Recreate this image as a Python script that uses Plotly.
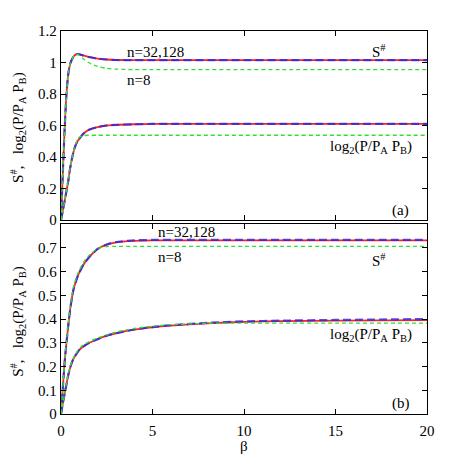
import plotly.graph_objects as go
from plotly.subplots import make_subplots

# ------------------ data ------------------
beta = [0, 0.1, 0.2, 0.3, 0.4, 0.5, 0.6, 0.7, 0.8, 0.9, 1.0, 1.2, 1.5, 2, 2.5, 3,
        4, 5, 6, 8, 10, 12, 15, 20]

# panel (a)
a_s_128 = [0, 0.30, 0.58, 0.80, 0.93, 0.99, 1.02, 1.04, 1.05, 1.054, 1.052, 1.045,
           1.035, 1.025, 1.019, 1.016, 1.015, 1.015, 1.015, 1.015, 1.015, 1.015, 1.015, 1.015]
a_s_32 = [0, 0.30, 0.58, 0.80, 0.93, 0.99, 1.02, 1.04, 1.05, 1.054, 1.052, 1.045,
          1.035, 1.025, 1.019, 1.016, 1.015, 1.015, 1.015, 1.015, 1.015, 1.015, 1.015, 1.015]
a_s_8 = [0, 0.30, 0.58, 0.80, 0.93, 0.99, 1.02, 1.04, 1.05, 1.052, 1.045, 1.025,
         1.0, 0.975, 0.963, 0.958, 0.955, 0.955, 0.955, 0.955, 0.955, 0.955, 0.955, 0.955]
a_l_128 = [0, 0.06, 0.12, 0.185, 0.25, 0.33, 0.39, 0.44, 0.475, 0.50, 0.515, 0.545,
           0.571, 0.59, 0.60, 0.604, 0.608, 0.61, 0.61, 0.61, 0.61, 0.61, 0.61, 0.61]
a_l_32 = [0, 0.06, 0.12, 0.185, 0.25, 0.33, 0.39, 0.44, 0.475, 0.50, 0.515, 0.545,
          0.571, 0.59, 0.60, 0.604, 0.608, 0.61, 0.61, 0.61, 0.61, 0.61, 0.61, 0.61]
a_l_8 = [0, 0.06, 0.12, 0.185, 0.25, 0.33, 0.39, 0.44, 0.48, 0.51, 0.525, 0.535,
         0.538, 0.538, 0.538, 0.538, 0.538, 0.538, 0.538, 0.538, 0.538, 0.538, 0.538, 0.538]

# panel (b)
b_s_128 = [0, 0.11, 0.22, 0.30, 0.375, 0.44, 0.49, 0.53, 0.555, 0.578, 0.595, 0.625,
           0.657, 0.695, 0.713, 0.723, 0.729, 0.731, 0.731, 0.731, 0.731, 0.731, 0.731, 0.731]
b_s_32 = [0, 0.11, 0.22, 0.30, 0.375, 0.44, 0.49, 0.53, 0.555, 0.578, 0.595, 0.625,
          0.657, 0.695, 0.714, 0.724, 0.731, 0.733, 0.733, 0.733, 0.733, 0.733, 0.733, 0.733]
b_s_8 = [0, 0.11, 0.22, 0.305, 0.385, 0.45, 0.50, 0.54, 0.565, 0.588, 0.605, 0.635,
         0.665, 0.697, 0.705, 0.706, 0.706, 0.706, 0.706, 0.706, 0.706, 0.706, 0.706, 0.706]
b_l_128 = [0, 0.045, 0.085, 0.125, 0.165, 0.195, 0.218, 0.235, 0.248, 0.26, 0.27, 0.283,
           0.298, 0.315, 0.33, 0.34, 0.355, 0.365, 0.372, 0.382, 0.388, 0.391, 0.393, 0.395]
b_l_32 = [0, 0.045, 0.085, 0.125, 0.165, 0.195, 0.218, 0.235, 0.248, 0.26, 0.27, 0.283,
          0.298, 0.315, 0.33, 0.34, 0.356, 0.366, 0.374, 0.384, 0.390, 0.393, 0.396, 0.40]
b_l_8 = [0, 0.045, 0.085, 0.13, 0.17, 0.20, 0.222, 0.24, 0.253, 0.265, 0.275, 0.29,
         0.303, 0.32, 0.333, 0.345, 0.36, 0.37, 0.376, 0.382, 0.383, 0.383, 0.383, 0.383]

x_ticks = [0, 5, 10, 15, 20]
a_y_ticks = [0, 0.2, 0.4, 0.6, 0.8, 1, 1.2]
b_y_ticks = [0, 0.1, 0.2, 0.3, 0.4, 0.5, 0.6, 0.7]

FONT = "Liberation Serif, Times New Roman, Times, serif"
YTITLE = "S<sup>#</sup>,&nbsp;&nbsp;&nbsp;log<sub>2</sub>(P/P<sub>A</sub> P<sub>B</sub>)"
LOG_LABEL = "log<sub>2</sub>(P/P<sub>A</sub> P<sub>B</sub>)"

fig = make_subplots(rows=2, cols=1)

panels = [
    (1, [a_s_128, a_l_128], [a_s_32, a_l_32], [a_s_8, a_l_8]),
    (2, [b_s_128, b_l_128], [b_s_32, b_l_32], [b_s_8, b_l_8]),
]
for row, red, blue, green in panels:
    for ys in red:
        fig.add_trace(go.Scatter(x=beta, y=ys, mode="lines",
                                 line=dict(color="#ff2020", width=1.8, shape="spline", smoothing=0.7)),
                      row=row, col=1)
    for ys in blue:
        fig.add_trace(go.Scatter(x=beta, y=ys, mode="lines",
                                 line=dict(color="rgba(40,40,230,0.8)", width=2.2, dash="8px,4px",
                                           shape="spline", smoothing=0.7)),
                      row=row, col=1)
    for ys in green:
        fig.add_trace(go.Scatter(x=beta, y=ys, mode="lines",
                                 line=dict(color="#30e030", width=1.3, dash="4px,3px",
                                           shape="spline", smoothing=0.7)),
                      row=row, col=1)

axis_common = dict(showline=True, linecolor="black", linewidth=1.3, mirror="ticks",
                   ticks="inside", ticklen=5, tickcolor="black", showgrid=False,
                   zeroline=False, automargin=False,
                   tickfont=dict(family=FONT, size=15, color="black"))

# page body has an 8px margin, so the figure sits 8px in from the corner
fig.update_layout(
    width=449, height=454,
    paper_bgcolor="white", plot_bgcolor="white",
    showlegend=False,
    margin=dict(l=53, r=30, t=23, b=48),
    font=dict(family=FONT, size=15, color="black"),
    xaxis=dict(domain=[0, 1], range=[0, 20], tickvals=x_ticks, showticklabels=False, **axis_common),
    xaxis2=dict(domain=[0, 1], range=[0, 20], tickvals=x_ticks, ticklabelstandoff=3, **axis_common),
    yaxis=dict(domain=[0.5065, 1], range=[0, 1.2], tickvals=a_y_ticks,
               ticktext=["0", "0.2", "0.4", "0.6", "0.8", "1", "1.2"], **axis_common),
    yaxis2=dict(domain=[0, 0.496], range=[0, 0.8], tickvals=b_y_ticks,
                ticktext=["0", "0.1", "0.2", "0.3", "0.4", "0.5", "0.6", "0.7"], **axis_common),
)

def label(text, x, y, ax, xanchor="left"):
    fig.add_annotation(text=text, x=x, y=y, xref=ax[0], yref=ax[1], showarrow=False,
                       xanchor=xanchor, yanchor="middle",
                       font=dict(family=FONT, size=15, color="black"))

# panel (a) labels
label("n=32,128", 3.5, 1.067, ("x", "y"))
label("n=8", 3.5, 0.889, ("x", "y"))
label("S<sup>#</sup>", 16.9, 1.075, ("x", "y"))
label(LOG_LABEL, 14.6, 0.463, ("x", "y"))
label("(a)", 18.0, 0.063, ("x", "y"))

# panel (b) labels
label("n=32,128", 5.2, 0.768, ("x2", "y2"))
label("n=8", 5.2, 0.662, ("x2", "y2"))
label("S<sup>#</sup>", 16.9, 0.648, ("x2", "y2"))
label(LOG_LABEL, 14.6, 0.333, ("x2", "y2"))
label("(b)", 18.0, 0.046, ("x2", "y2"))

# x title
fig.add_annotation(text="β", x=0.5, y=-0.083, xref="paper", yref="paper", showarrow=False,
                   xanchor="center", yanchor="middle", font=dict(family=FONT, size=15, color="black"))

# rotated y titles, one per panel
for yc in [0.749, 0.243]:
    fig.add_annotation(text=YTITLE, x=-0.118, y=yc, xref="paper", yref="paper",
                       showarrow=False, textangle=-90, xanchor="center", yanchor="middle",
                       font=dict(family=FONT, size=15, color="black"))

fig.write_html("out.html")
